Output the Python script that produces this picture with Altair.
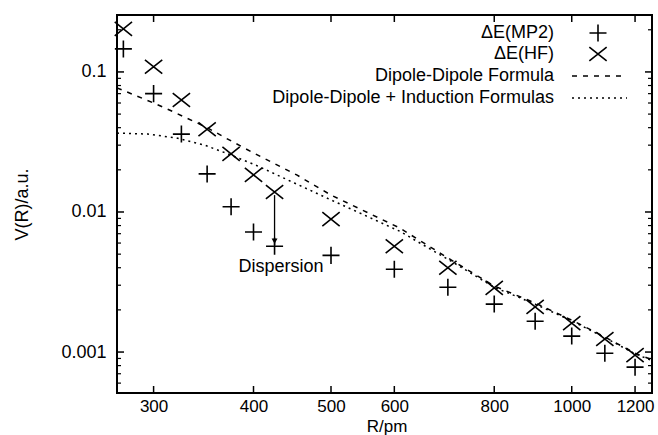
import altair as alt
import pandas as pd

# ---------------- data ----------------
R_pts = [275, 300, 325, 350, 375, 400, 425, 500, 600, 700, 800, 900, 1000, 1100, 1200]
dE_HF = [0.203, 0.109, 0.063, 0.039, 0.026, 0.0184, 0.0139, 0.0089, 0.0057, 0.0040,
         0.00287, 0.0021, 0.00161, 0.00124, 0.00095]
dE_MP2 = [0.146, 0.070, 0.036, 0.0187, 0.0109, 0.0072, 0.0057, 0.0049, 0.0039, 0.0029,
          0.0022, 0.00166, 0.0013, 0.00098, 0.00078]

dd_R = [270, 300, 314, 350, 373, 402, 453, 500, 609, 700, 800, 900, 1000, 1100, 1200, 1260]
dd_V = [0.077, 0.060, 0.0535, 0.040, 0.0327, 0.026, 0.0184, 0.0132, 0.0077, 0.0047,
        0.00296, 0.00224, 0.00169, 0.00128, 0.00098, 0.00088]

ind_R = [270, 295, 320, 347, 369, 402, 450, 500, 609, 700, 800, 900, 1000, 1100, 1200, 1260]
ind_V = [0.0366, 0.036, 0.0338, 0.0301, 0.0264, 0.0217, 0.0161, 0.0122, 0.0073, 0.0046,
         0.0029, 0.0022, 0.00167, 0.00127, 0.00097, 0.00087]

x_tick_values = [300, 400, 500, 600, 800, 1000, 1200]
y_major_values = [0.001, 0.01, 0.1]
y_minor_values = [0.0006, 0.0007, 0.0008, 0.0009,
                  0.002, 0.003, 0.004, 0.005, 0.006, 0.007, 0.008, 0.009,
                  0.02, 0.03, 0.04, 0.05, 0.06, 0.07, 0.08, 0.09, 0.2]

arrow_R = [425]
arrow_from = [0.0132]
arrow_to = [0.0058]
note_R = [433]
note_V = [0.0037]
note_text = ["Dispersion"]

legend_labels = ["ΔE(MP2)", "ΔE(HF)", "Dipole-Dipole Formula", "Dipole-Dipole + Induction Formulas"]

# ---------------- layout ----------------
W, H = 535, 378
FONT = "Liberation Sans"
FS = 18
PLUS = "M-1,0L1,0M0,-1L0,1"
CROSS = "M-1,-0.8L1,0.8M-1,0.8L1,-0.8"

xs = alt.Scale(type="log", domain=[270, 1260], nice=False)
ys = alt.Scale(type="log", domain=[0.00051, 0.255], nice=False)

pts = pd.DataFrame({"R": R_pts, "HF": dE_HF, "MP2": dE_MP2})
dd = pd.DataFrame({"R": dd_R, "V": dd_V})
ind = pd.DataFrame({"R": ind_R, "V": ind_V})

x_axis = alt.Axis(values=x_tick_values, format="d", title="R/pm", ticks=False, domain=False,
                  grid=False, labelFontSize=17, labelFont=FONT, labelColor="black",
                  labelPadding=5, labelFlush=False, labelOverlap=False, titleFont=FONT,
                  titleFontSize=17, titleFontWeight="normal", titleColor="black",
                  titleY=38, titleX=W / 2 + 2, titleBaseline="alphabetic")
y_axis = alt.Axis(values=y_major_values, format="~g", title="V(R)/a.u.", ticks=False,
                  domain=False, grid=False, labelFontSize=FS, labelFont=FONT,
                  labelColor="black", labelPadding=11, labelOverlap=False,
                  titleFont=FONT, titleFontSize=FS, titleFontWeight="normal",
                  titleColor="black", titleX=-95, titleY=H / 2, titleAngle=-90,
                  titleAlign="center", titleBaseline="middle")

hf = alt.Chart(pts).mark_point(shape=CROSS, size=300, filled=False, strokeWidth=1.6,
                               color="black", opacity=1).encode(
    x=alt.X("R:Q", scale=xs, axis=x_axis),
    y=alt.Y("HF:Q", scale=ys, axis=y_axis),
)
mp2 = alt.Chart(pts).mark_point(shape=PLUS, size=290, filled=False, strokeWidth=1.6,
                                color="black", opacity=1).encode(
    x=alt.X("R:Q", scale=xs),
    y=alt.Y("MP2:Q", scale=ys),
)
dd_line = alt.Chart(dd).mark_line(strokeDash=[5, 6], strokeWidth=1.5, color="black",
                                  clip=True).encode(
    x=alt.X("R:Q", scale=xs), y=alt.Y("V:Q", scale=ys))
ind_line = alt.Chart(ind).mark_line(strokeDash=[2, 4], strokeWidth=1.5, color="black",
                                    clip=True).encode(
    x=alt.X("R:Q", scale=xs), y=alt.Y("V:Q", scale=ys))

# arrow and annotation
arr = pd.DataFrame({"R": arrow_R, "a": arrow_from, "b": arrow_to})
arrow_shaft = alt.Chart(arr).mark_rule(color="black", strokeWidth=1.3).encode(
    x=alt.X("R:Q", scale=xs), y=alt.Y("a:Q", scale=ys), y2="b:Q")
arrow_head = alt.Chart(arr).mark_point(shape="triangle-down", filled=True, size=35,
                                       color="black", yOffset=-4, opacity=1).encode(
    x=alt.X("R:Q", scale=xs), y=alt.Y("b:Q", scale=ys))
note = alt.Chart(pd.DataFrame({"R": note_R, "V": note_V, "t": note_text})).mark_text(
    font=FONT, fontSize=FS, align="center", baseline="alphabetic", color="black").encode(
    x=alt.X("R:Q", scale=xs), y=alt.Y("V:Q", scale=ys), text="t:N")

# inward ticks (frame style)
xt = pd.DataFrame({"R": x_tick_values})
ytm = pd.DataFrame({"V": y_major_values})
ytn = pd.DataFrame({"V": y_minor_values})
tick_layers = [
    alt.Chart(xt).mark_rule(color="black", strokeWidth=1.5).encode(
        x=alt.X("R:Q", scale=xs), y=alt.value(H), y2=alt.value(H - 7)),
    alt.Chart(xt).mark_rule(color="black", strokeWidth=1.5).encode(
        x=alt.X("R:Q", scale=xs), y=alt.value(0), y2=alt.value(7)),
    alt.Chart(ytm).mark_rule(color="black", strokeWidth=1.5).encode(
        y=alt.Y("V:Q", scale=ys), x=alt.value(0), x2=alt.value(7)),
    alt.Chart(ytm).mark_rule(color="black", strokeWidth=1.5).encode(
        y=alt.Y("V:Q", scale=ys), x=alt.value(W), x2=alt.value(W - 7)),
    alt.Chart(ytn).mark_rule(color="black", strokeWidth=1.2).encode(
        y=alt.Y("V:Q", scale=ys), x=alt.value(0), x2=alt.value(4)),
    alt.Chart(ytn).mark_rule(color="black", strokeWidth=1.2).encode(
        y=alt.Y("V:Q", scale=ys), x=alt.value(W), x2=alt.value(W - 4)),
]

# legend (gnuplot style: right-aligned text, sample on the right)
row_y = [18, 39, 61, 83]
text_right = 437
sym_x = 481
line_x = (455, 510)
legend_layers = []
for lab, yy in zip(legend_labels, row_y):
    legend_layers.append(
        alt.Chart(pd.DataFrame({"t": [lab]})).mark_text(
            font=FONT, fontSize=FS, align="right", baseline="middle", color="black").encode(
            x=alt.value(text_right), y=alt.value(yy), text="t:N"))
legend_layers.append(alt.Chart(pd.DataFrame({"a": [0]})).mark_point(
    shape=PLUS, size=290, filled=False, strokeWidth=1.6, color="black", opacity=1).encode(
    x=alt.value(sym_x), y=alt.value(row_y[0])))
legend_layers.append(alt.Chart(pd.DataFrame({"a": [0]})).mark_point(
    shape=CROSS, size=300, filled=False, strokeWidth=1.6, color="black", opacity=1).encode(
    x=alt.value(sym_x), y=alt.value(row_y[1])))
legend_layers.append(alt.Chart(pd.DataFrame({"a": [0]})).mark_rule(
    strokeDash=[5, 6], strokeWidth=1.5, color="black").encode(
    x=alt.value(line_x[0]), x2=alt.value(line_x[1]), y=alt.value(row_y[2])))
legend_layers.append(alt.Chart(pd.DataFrame({"a": [0]})).mark_rule(
    strokeDash=[2, 4], strokeWidth=1.5, color="black").encode(
    x=alt.value(line_x[0]), x2=alt.value(line_x[1]), y=alt.value(row_y[3])))

chart = alt.layer(
    hf, mp2, dd_line, ind_line, arrow_shaft, arrow_head, note, *tick_layers, *legend_layers
).properties(
    width=W, height=H,
    autosize=alt.AutoSizeParams(type="none"),
    padding={"left": 117, "top": 15, "right": 6, "bottom": 42},
    background="white",
).configure_view(stroke="black", strokeWidth=2)

chart.save("out.html", embed_options={"renderer": "svg", "actions": False})
